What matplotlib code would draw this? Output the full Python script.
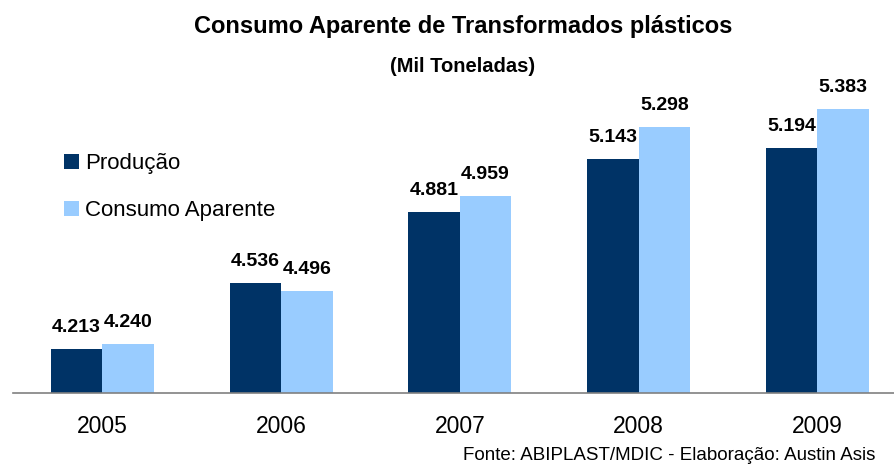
import matplotlib.pyplot as plt
import numpy as np

plt.rcParams['font.family'] = ['Liberation Sans', 'DejaVu Sans']

# dados (mil toneladas)
anos = ['2005', '2006', '2007', '2008', '2009']
producao = [4.213, 4.536, 4.881, 5.143, 5.194]
consumo = [4.240, 4.496, 4.959, 5.298, 5.383]

cor_prod = '#003366'
cor_cons = '#99CCFF'

fig = plt.figure(figsize=(8.94, 4.66), dpi=100)
ax = fig.add_axes([13 / 894, 73 / 466, 5 * 178.75 / 894, 328 / 466])

x = np.arange(len(anos))
w = 0.288
ax.bar(x - w / 2, producao, w, color=cor_prod, label='Produção')
ax.bar(x + w / 2, consumo, w, color=cor_cons, label='Consumo Aparente')

ax.set_xlim(-0.5, 4.5)
ax.set_ylim(4.0, 5.6)

# rotulos de valor
for i in range(len(anos)):
    ax.text(x[i] - w / 2, producao[i] + 0.105, f'{producao[i]:.3f}',
            ha='center', va='center', fontsize=14, fontweight='bold')
    ax.text(x[i] + w / 2, consumo[i] + 0.105, f'{consumo[i]:.3f}',
            ha='center', va='center', fontsize=14, fontweight='bold')

for s in ['top', 'right', 'left']:
    ax.spines[s].set_visible(False)
ax.spines['bottom'].set_color('#808080')
ax.spines['bottom'].set_linewidth(1.2)
ax.set_yticks([])
ax.set_xticks(x)
ax.set_xticklabels(anos, fontsize=16.5)
ax.tick_params(axis='x', length=0, pad=16)

ax.legend(loc='upper left', bbox_to_anchor=(53 / 894, 1 - 142 / 466),
          bbox_transform=fig.transFigure, frameon=False, fontsize=16,
          handlelength=0.65, handleheight=0.65, handletextpad=0.3,
          labelspacing=1.17, borderpad=0)

fig.text(463 / 894, 1 - 27 / 466, 'Consumo Aparente de Transformados plásticos',
         ha='center', va='center', fontsize=17, fontweight='bold')
fig.text(463 / 894, 1 - 67 / 466, '(Mil Toneladas)',
         ha='center', va='center', fontsize=14.5, fontweight='bold')
fig.text(463 / 894, 1 - 455 / 466, 'Fonte: ABIPLAST/MDIC - Elaboração: Austin Asis',
         ha='left', va='center', fontsize=13.5)

fig.savefig('out.png', dpi=100)
